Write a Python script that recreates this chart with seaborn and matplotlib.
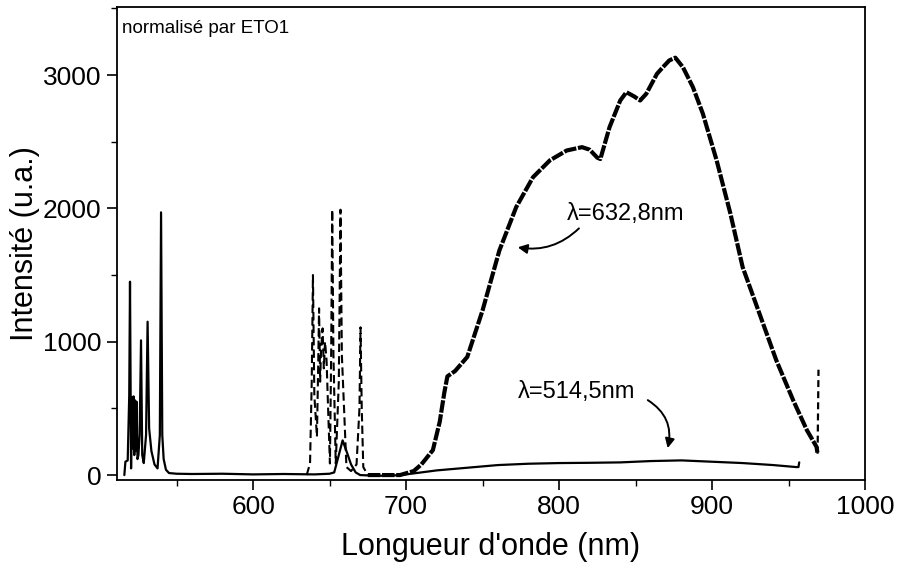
import matplotlib
matplotlib.use("Agg")
import matplotlib.pyplot as plt
import seaborn as sns
import pandas as pd
from matplotlib.ticker import MultipleLocator, FixedLocator

# ---------------- data ----------------
# excitation 514.5 nm (solid line)
solid_x = [515.8, 516.5, 518, 519, 519.5, 520.2, 520.8, 521.3, 521.8, 522.3, 522.8, 523.3,
           523.8, 524.4, 525, 525.8, 526.7, 527.5, 528.5, 530, 531, 532, 533.5, 535.5,
           537.5, 539, 539.8, 540.6, 541.5, 543, 545, 550, 560, 580, 600, 620, 640, 650,
           653, 656, 658.5, 661, 664, 667, 670, 680, 690, 700, 720, 740, 760, 780, 800,
           820, 840, 860, 880, 900, 920, 940, 955, 956.5, 957]
solid_y = [0, 100, 110, 600, 1450, 50, 580, 200, 590, 150, 560, 180,
           550, 120, 150, 300, 1010, 150, 90, 300, 1150, 350, 180, 80,
           50, 300, 1970, 300, 120, 40, 15, 10, 8, 10, 5, 8, 5, 10,
           20, 150, 260, 180, 80, 20, 0, -5, -5, 5, 35, 55, 75, 85, 90,
           92, 95, 105, 110, 100, 90, 75, 60, 60, 95]

# excitation 632.8 nm (dashed line): lines, broad band, end spike
lines_x = [635, 637.2, 638.3, 639.1, 640, 641.7, 642.5, 643.1, 643.8, 644.4, 645.4, 646.2,
           647, 648, 649, 650.2, 651, 651.7, 652.5, 654, 656, 657.1, 658, 661, 664,
           667.6, 669.5, 670.2, 671, 672, 675]
lines_y = [0, 87, 700, 1500, 600, 288, 800, 1250, 700, 936, 1100, 800,
           1000, 861, 500, 87, 900, 1990, 900, 87, 700, 1990, 900, 60, 30,
           80, 500, 1108, 500, 60, 0]

band_x = [675, 690, 696, 705, 710, 717.5, 722, 725, 727, 732, 740, 750, 761, 772, 783,
          794, 805, 815, 820, 825, 827, 833, 840, 844, 849, 853, 857, 864, 868, 872,
          876, 881, 887.5, 894, 903, 912, 920, 931, 942, 953, 962, 968.3, 969]
band_y = [0, 0, 0, 30, 80, 187, 400, 620, 740, 780, 886, 1236, 1685, 2010, 2234,
          2360, 2434, 2459, 2440, 2380, 2370, 2609, 2809, 2871, 2840, 2809, 2859, 3009, 3060, 3109,
          3130, 3058, 2909, 2710, 2360, 1961, 1560, 1211, 861, 562, 337, 212, 160]

end_x = [969, 969.6]
end_y = [160, 790]

x_ticks = [600, 700, 800, 900, 1000]
y_ticks = [0, 1000, 2000, 3000]

# ---------------- figure ----------------
sns.set_style("ticks")
plt.rcParams["font.family"] = ["Liberation Sans", "DejaVu Sans"]
plt.rcParams["lines.scale_dashes"] = False
for k in ["text.color", "axes.labelcolor", "xtick.color", "ytick.color",
          "xtick.labelcolor", "ytick.labelcolor", "axes.edgecolor"]:
    plt.rcParams[k] = "black"

fig = plt.figure(figsize=(8.97, 5.67), dpi=100)
ax = fig.add_axes([117 / 897, 1 - 480 / 567, (865 - 117) / 897, (480 - 7) / 567])

df_s = pd.DataFrame({"x": solid_x, "y": solid_y})
df_l = pd.DataFrame({"x": lines_x, "y": lines_y})
df_b = pd.DataFrame({"x": band_x, "y": band_y})
df_e = pd.DataFrame({"x": end_x, "y": end_y})

sns.lineplot(data=df_s, x="x", y="y", sort=False, estimator=None, color="black",
             linewidth=1.6, ax=ax)
sns.lineplot(data=df_l, x="x", y="y", sort=False, estimator=None, color="black",
             linewidth=1.5, linestyle=(0, (6, 3)), ax=ax)
sns.lineplot(data=df_b, x="x", y="y", sort=False, estimator=None, color="black",
             linewidth=3.0, linestyle=(0, (9, 1.2)), ax=ax)
sns.lineplot(data=df_e, x="x", y="y", sort=False, estimator=None, color="black",
             linewidth=1.6, linestyle=(0, (5, 3)), ax=ax)

ax.set_xlim(511, 1000)
ax.set_ylim(-37, 3510)
ax.xaxis.set_major_locator(FixedLocator(x_ticks))
ax.yaxis.set_major_locator(FixedLocator(y_ticks))
ax.xaxis.set_minor_locator(MultipleLocator(50))
ax.yaxis.set_minor_locator(MultipleLocator(500))
ax.tick_params(which="major", direction="out", length=7, width=1.2, labelsize=19,
               pad=4, colors="black", top=False, right=False)
ax.tick_params(which="minor", direction="out", length=4, width=1.0, top=False, right=False)

for s in ax.spines.values():
    s.set_visible(True)
    s.set_color("black")
    s.set_linewidth(1.3)

ax.set_xlabel("Longueur d'onde (nm)", fontsize=22, labelpad=9)
ax.set_ylabel("Intensité (u.a.)", fontsize=22, labelpad=2)

ax.text(0.007, 0.945, "normalisé par ETO1", transform=ax.transAxes, fontsize=13.5,
        ha="left", va="baseline")

ax.text(805, 1915, "λ=632,8nm", fontsize=17, ha="left", va="baseline")
ax.annotate("", xy=(773, 1708), xytext=(813, 1850),
            arrowprops=dict(arrowstyle="-|>", color="black", lw=1.4,
                            connectionstyle="arc3,rad=-0.25",
                            shrinkA=0, shrinkB=0, mutation_scale=14))
ax.text(773, 577, "λ=514,5nm", fontsize=17, ha="left", va="baseline")
ax.annotate("", xy=(871, 202), xytext=(858, 562),
            arrowprops=dict(arrowstyle="-|>", color="black", lw=1.4,
                            connectionstyle="arc3,rad=-0.35",
                            shrinkA=0, shrinkB=0, mutation_scale=14))

fig.savefig("out.png", dpi=100)
